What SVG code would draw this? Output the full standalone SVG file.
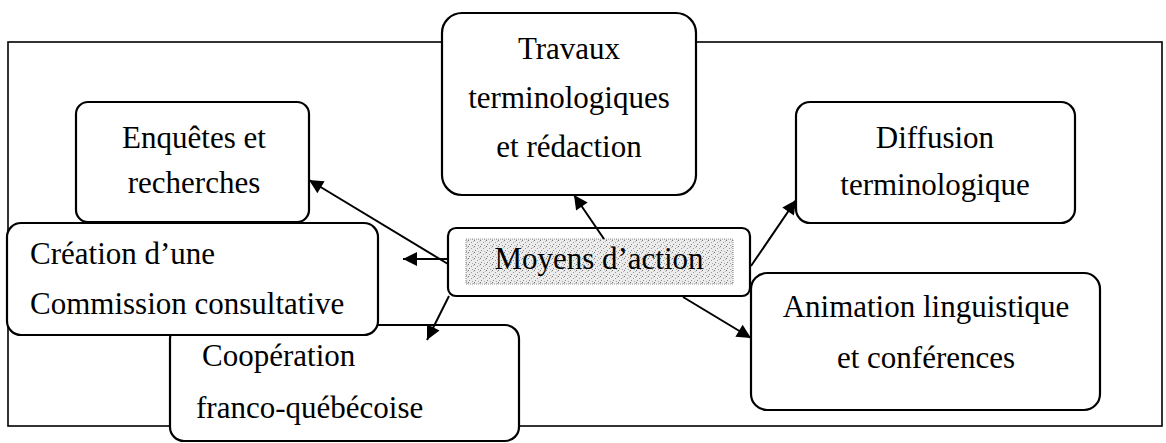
<svg xmlns="http://www.w3.org/2000/svg" width="1166" height="443" viewBox="0 0 1166 443">
<style>
.box{fill:#fff;stroke:#000;stroke-width:2.2}
text{font-family:'Liberation Serif','DejaVu Serif','Times New Roman',serif;font-size:31px;fill:#000}
.c{text-anchor:middle}
.ln{stroke:#000;stroke-width:2;fill:none}
</style>
<defs>
<pattern id="dither" width="6" height="6" patternUnits="userSpaceOnUse">
<rect width="6" height="6" fill="#ececec"/>
<rect x="0" y="0" width="1" height="1" fill="#777"/>
<rect x="3" y="2" width="1" height="1" fill="#999"/>
<rect x="1" y="4" width="1" height="1" fill="#888"/>
<rect x="4" y="5" width="1" height="1" fill="#aaa"/>
<rect x="5" y="1" width="1" height="1" fill="#bbb"/>
</pattern>
<marker id="ah" viewBox="0 0 10 10" refX="10" refY="5" markerWidth="18" markerHeight="14" markerUnits="userSpaceOnUse" orient="auto">
<path d="M0,0 L10,5 L0,10 z" fill="#000"/>
</marker>
</defs>
<g id="frame"><rect x="8" y="42" width="1154" height="384" fill="#fff" stroke="#000" stroke-width="1.6"/></g>
<g id="node-travaux"><rect class="box" x="442" y="13" width="254" height="182" rx="20"/>
<text class="c" x="569" y="59" font-family="Liberation Serif, serif">Travaux</text><text class="c" x="569" y="108" font-family="Liberation Serif, serif">terminologiques</text><text class="c" x="569" y="157" font-family="Liberation Serif, serif">et rédaction</text></g>
<g id="node-diffusion"><rect class="box" x="796" y="102" width="279" height="121" rx="14"/>
<text class="c" x="935" y="148" font-family="Liberation Serif, serif">Diffusion</text><text class="c" x="935" y="195" font-family="Liberation Serif, serif">terminologique</text></g>
<g id="node-animation"><rect class="box" x="751" y="273" width="349" height="137" rx="16"/>
<text class="c" x="926" y="317" font-family="Liberation Serif, serif">Animation linguistique</text><text class="c" x="926" y="368" font-family="Liberation Serif, serif">et conférences</text></g>
<g id="node-cooperation"><rect class="box" x="170" y="325" width="349" height="116" rx="14"/>
<text x="202" y="366" font-family="Liberation Serif, serif">Coopération</text><text x="196" y="418" font-family="Liberation Serif, serif">franco-québécoise</text></g>
<g id="node-enquetes"><rect class="box" x="76" y="102" width="233" height="120" rx="12"/>
<text class="c" x="194" y="148" font-family="Liberation Serif, serif">Enquêtes et</text><text class="c" x="194" y="193" font-family="Liberation Serif, serif">recherches</text></g>
<g id="node-creation"><rect class="box" x="7" y="223" width="371" height="112" rx="14"/>
<text x="30" y="264" font-family="Liberation Serif, serif">Création d’une</text><text x="30" y="314" font-family="Liberation Serif, serif">Commission consultative</text></g>
<g id="node-moyens"><rect class="box" x="448" y="228" width="302" height="68" rx="8"/>
<rect x="466" y="239" width="267" height="45" fill="url(#dither)" stroke="#999" stroke-width="1.2" stroke-dasharray="1 1"/>
<text class="c" x="599" y="269" font-family="Liberation Serif, serif">Moyens d’action</text></g>
<g id="connectors">
<line class="ln" x1="448" y1="264" x2="309" y2="180" marker-end="url(#ah)"/>
<line class="ln" x1="448" y1="259" x2="403" y2="259" marker-end="url(#ah)"/>
<line class="ln" x1="604" y1="239" x2="574" y2="195" marker-end="url(#ah)"/>
<line class="ln" x1="751" y1="266" x2="796" y2="200" marker-end="url(#ah)"/>
<line class="ln" x1="683" y1="297" x2="751" y2="338" marker-end="url(#ah)"/>
<line class="ln" x1="449" y1="296" x2="427" y2="340" marker-end="url(#ah)"/>
</g>
</svg>
